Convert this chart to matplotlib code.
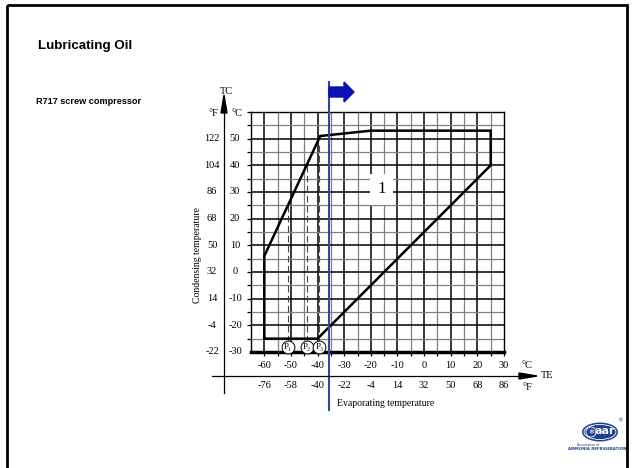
import matplotlib
matplotlib.use("Agg")
import matplotlib.pyplot as plt
import matplotlib.transforms as mtransforms
from matplotlib.patches import Rectangle, Ellipse, Circle, Polygon, FancyArrow
import numpy as np

# Daten des Einsatzbereichs (TE in °C, TC in °C)
envelope_te = [-60, -60, -39, -20, 25, 25, -40, -60]
envelope_tc = [-25, 6, 51, 53, 53, 40, -25, -25]

p_labels = ["P₁", "P₂", "P₃"]
p_te = [-51, -44, -39.3]
p_top = [26, 40, 48]

te_ticks_c = [-60, -50, -40, -30, -20, -10, 0, 10, 20, 30]
te_ticks_f = ["-76", "-58", "-40", "-22", "-4", "14", "32", "50", "68", "86"]
tc_ticks_c = [50, 40, 30, 20, 10, 0, -10, -20, -30]
tc_ticks_f = ["122", "104", "86", "68", "50", "32", "14", "-4", "-22"]

blue_te = -35.6
region_label = "1"
region_pos = (-16, 31)

serif = ["Liberation Serif", "DejaVu Serif"]
sans = ["Liberation Sans", "DejaVu Sans"]

fig = plt.figure(figsize=(6.32, 4.68), dpi=100)
W, H = 632, 468

# Diagramm mit Raster
ax = fig.add_axes([251 / W, 1 - 352 / H, 253 / W, 240 / H])
ax.set_xlim(-65, 30)
ax.set_ylim(-30, 60)
for x in np.arange(-60, 30, 5):
    major = x % 10 == 0
    ax.axvline(x, color="black" if major else "#808080", lw=1.1 if major else 0.9, zorder=1)
for y in np.arange(-25, 60, 5):
    major = y % 10 == 0
    ax.axhline(y, color="black" if major else "#808080", lw=1.1 if major else 0.9, zorder=1)
ax.set_xticks(np.arange(-60, 31, 5))
ax.set_yticks(np.arange(-25, 61, 5))
ax.tick_params(direction="out", length=3, width=0.9, labelbottom=False, labelleft=False)
for s in ["top", "right", "left"]:
    ax.spines[s].set_linewidth(1.0)
ax.spines["bottom"].set_linewidth(2.5)

# Einsatzgrenze
ax.plot(envelope_te, envelope_tc, color="black", lw=1.8, zorder=3, solid_joinstyle="miter")

# gestrichelte Linien und Kreise P1..P3
circle_y = -28.2
for lab, x, top in zip(p_labels, p_te, p_top):
    ax.plot([x, x], [circle_y + 2, top], color="#444444", lw=0.8, ls=(0, (6, 3)), zorder=2)
    ax.scatter([x], [circle_y], s=85, facecolor="white", edgecolor="black", lw=0.7,
               zorder=4, clip_on=False)
    ax.text(x, circle_y, lab, ha="center", va="center", fontsize=6.5, family=serif, zorder=5)

ax.text(*region_pos, region_label, ha="center", va="center", fontsize=12, family=serif,
        zorder=4, bbox=dict(boxstyle="square,pad=0.45", fc="white", ec="none"))

# blaue Linie
ax.axvline(blue_te, ymin=-0.242, ymax=1.125, color="#2a4b9b", lw=1.5, clip_on=False, zorder=6)

# Overlay in Pixelkoordinaten
ov = fig.add_axes([0, 0, 1, 1])
ov.set_xlim(0, W)
ov.set_ylim(H, 0)
ov.axis("off")
ov.patch.set_visible(False)

ov.add_patch(Rectangle((7, 5), 620, 470, fill=False, lw=2, ec="black", clip_on=False))
ov.text(38, 46, "Lubricating Oil", fontsize=9.6, fontweight="bold", family=sans,
        va="center", ha="left")
ov.text(36, 102, "R717 screw compressor", fontsize=6.6, fontweight="bold", family=sans,
        va="center", ha="left")

# blauer Pfeil
ov.add_patch(FancyArrow(329, 92, 25, 0, width=10, head_width=20, head_length=10,
                        length_includes_head=True, color="#0a12b8", zorder=7))

# Achse TC
ov.plot([224, 224], [112, 393], color="black", lw=0.9)
ov.add_patch(Polygon([[224, 95], [221, 113], [227, 113]], closed=True, color="black"))
ov.text(226, 92, "TC", fontsize=7.5, family=serif, ha="center", va="center")
ov.text(213, 113, "°F", fontsize=7.5, family=serif, ha="center", va="center")
ov.text(237, 113, "°C", fontsize=7.5, family=serif, ha="center", va="center")

ty = mtransforms.blended_transform_factory(ov.transData, ax.transData)
for c, f in zip(tc_ticks_c, tc_ticks_f):
    ov.text(235, c, str(c), transform=ty, fontsize=7.5, family=serif, ha="center", va="center")
    ov.text(212, c, f, transform=ty, fontsize=7.5, family=serif, ha="center", va="center")
ov.text(198, 255, "Condensing temperature", rotation=90, fontsize=7, family=serif,
        ha="center", va="center")

# Achse TE
ov.plot([212, 522], [376, 376], color="black", lw=0.9)
ov.add_patch(Polygon([[537, 376], [519, 373], [519, 379]], closed=True, color="black"))
ov.text(547, 376, "TE", fontsize=7.5, family=serif, ha="center", va="center")
ov.text(527, 366, "°C", fontsize=7.5, family=serif, ha="center", va="center")
ov.text(527, 387, "°F", fontsize=7.5, family=serif, ha="center", va="center")

tx = mtransforms.blended_transform_factory(ax.transData, ov.transData)
for c, f in zip(te_ticks_c, te_ticks_f):
    ov.text(c, 366, str(c), transform=tx, fontsize=7.5, family=serif, ha="center", va="center")
    ov.text(c, 386, f, transform=tx, fontsize=7.5, family=serif, ha="center", va="center")
ov.text(386, 404, "Evaporating temperature", fontsize=7, family=serif, ha="center", va="center")

# Logo
ov.add_patch(Ellipse((600, 432), 36, 19, fc="#1f3f8f", ec="none"))
ov.add_patch(Ellipse((600, 432), 32, 15, fill=False, ec="white", lw=0.6))
ov.add_patch(Circle((591, 432), 5, fill=False, ec="white", lw=0.6))
ov.text(591, 432.5, "❄", color="white", fontsize=5, ha="center", va="center", family="DejaVu Sans")
ov.text(605, 431, "aar", color="white", fontsize=8, fontweight="bold", ha="center",
        va="center", family="DejaVu Sans")
ov.text(620, 421, "®", color="#1f3f8f", fontsize=4, ha="center", va="center")
ov.text(577, 445, "Association of", color="#1f3f8f", fontsize=2.3, ha="left", va="center")
ov.text(597, 449.5, "AMMONIA REFRIGERATION", color="#1f3f8f", fontsize=2.8,
        fontweight="bold", ha="center", va="center")

fig.savefig("out.png", dpi=100)
